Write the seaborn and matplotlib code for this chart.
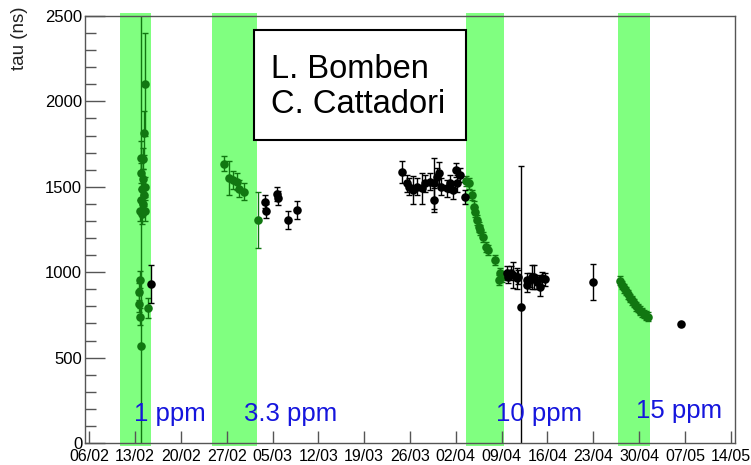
import matplotlib
matplotlib.use("Agg")
import matplotlib.pyplot as plt
import matplotlib.dates as mdates
import matplotlib.ticker as mticker
import seaborn as sns
import pandas as pd

# ------------------------------
# data (days counted from 06/02/2012)
# ------------------------------
t0 = pd.Timestamp("2012-02-06")

green_days = [8.51, 8.36, 7.85, 8.16, 7.85, 8.16, 8.51, 8.0, 8.36, 7.85, 8.16, 7.75, 8.51, 8.0,
              7.75, 7.64, 7.64, 9.01, 7.75, 7.85,
              20.6, 21.4, 22.0, 22.6, 22.9, 23.6, 25.7,
              57.55, 58.05, 58.4, 58.7, 58.9, 59.3, 59.5, 59.7, 60.1, 60.6, 60.96, 62.0, 62.75, 63.0, 62.65,
              81.08, 81.4, 81.7, 82.0, 82.3, 82.6, 82.9, 83.2, 83.5, 83.8, 84.1, 84.45, 84.75, 85.05, 85.36]
green_tau = [2100, 1815, 1670, 1665, 1580, 1545, 1500, 1490, 1450, 1420, 1400, 1360, 1360, 1340,
             955, 885, 815, 790, 740, 565,
             1635, 1550, 1540, 1530, 1490, 1470, 1305,
             1535, 1520, 1452, 1384, 1354, 1306, 1266, 1247, 1208, 1149, 1130, 1071, 994, 974, 954,
             950, 925, 905, 890, 870, 850, 835, 820, 800, 790, 775, 765, 755, 745, 740]
green_err = [300, 130, 100, 60, 60, 60, 60, 80, 60, 70, 50, 60, 60, 60,
             50, 50, 50, 60, 50, 2000,
             45, 100, 50, 50, 50, 50, 165,
             30, 30, 30, 30, 30, 30, 30, 30, 30, 30, 30, 30, 30, 30, 30,
             25, 25, 25, 25, 25, 25, 25, 25, 25, 25, 25, 25, 25, 25, 25]

black_days = [9.4, 26.85, 26.95, 28.6, 28.9, 30.4, 31.8,
              47.7, 48.5, 48.8, 49.5, 50.0, 50.8, 51.3, 52.05, 52.6, 52.7, 53.1, 53.5, 53.8,
              54.6, 55.1, 55.6, 56.0, 56.2, 56.6, 57.45,
              63.8, 64.0, 64.5, 64.8, 65.3, 65.5, 65.9, 66.8, 66.8, 67.3, 67.6, 67.9, 68.4,
              68.8, 69.1, 69.6, 77.0, 90.4]
black_tau = [930, 1413, 1358, 1458, 1433, 1306, 1364,
             1585, 1520, 1500, 1481, 1500, 1491, 1520, 1530, 1520, 1423, 1559, 1579, 1500,
             1491, 1520, 1481, 1598, 1520, 1569, 1442,
             994, 974, 994, 984, 964, 970, 798, 954, 925, 954, 974, 974, 944,
             915, 964, 958, 941, 695]
black_err = [110, 40, 40, 40, 40, 55, 50,
             65, 50, 50, 80, 50, 90, 50, 50, 150, 70, 50, 65, 50,
             50, 50, 50, 40, 50, 40, 40,
             40, 40, 40, 75, 60, 40, 824, 40, 40, 40, 70, 70, 40,
             55, 40, 40, 105, 10]

band_start = [4.69, 18.7, 57.6, 80.7]
band_end = [9.46, 25.6, 63.3, 85.6]

ppm_labels = ["1 ppm", "3.3 ppm", "10 ppm", "15 ppm"]
ppm_days = [6.8, 23.6, 62.1, 83.6]
ppm_tau = [130, 130, 130, 145]

authors = "L. Bomben\nC. Cattadori"


def to_dates(days):
    return t0 + pd.to_timedelta(days, unit="D")


green = pd.DataFrame({"date": to_dates(green_days), "tau": green_tau, "err": green_err})
black = pd.DataFrame({"date": to_dates(black_days), "tau": black_tau, "err": black_err})

# ------------------------------
# figure
# ------------------------------
sns.set_theme(style="white")
plt.rcParams["font.family"] = ["Liberation Sans", "DejaVu Sans"]

fig = plt.figure(figsize=(7.51, 4.65), dpi=100)
ax = fig.add_axes([85 / 751, 22 / 465, 650 / 751, 427 / 465])

# concentration bands
for s, e in zip(band_start, band_end):
    ax.axvspan(to_dates([s])[0], to_dates([e])[0], ymin=-0.008, ymax=1.008,
               color="#80ff80", lw=0, zorder=0, clip_on=False)

# error bars + points
ax.errorbar(green["date"], green["tau"], yerr=green["err"], fmt="none",
            ecolor="#117711", elinewidth=1, capsize=2.5, zorder=2)
ax.errorbar(black["date"], black["tau"], yerr=black["err"], fmt="none",
            ecolor="black", elinewidth=1, capsize=2.5, zorder=2)
sns.scatterplot(data=green, x="date", y="tau", color="#117711", s=38,
                linewidth=0, ax=ax, zorder=3)
sns.scatterplot(data=black, x="date", y="tau", color="black", s=38,
                linewidth=0, ax=ax, zorder=3)

# ppm labels
for lab, d, v in zip(ppm_labels, ppm_days, ppm_tau):
    ax.text(to_dates([d])[0], v, lab, color="#1515dd", fontsize=18.5,
            ha="left", va="baseline", zorder=4)

# author box
box = plt.Rectangle((0.26, 0.7096), 0.326, 0.2574, transform=ax.transAxes,
                    fc="white", ec="black", lw=1.5, zorder=4)
ax.add_patch(box)
ax.text(0.286, 0.834, authors, transform=ax.transAxes, fontsize=23.5,
        ha="left", va="center", linespacing=1.15, zorder=5, color="black")

# axes
ax.set_xlim(to_dates([-0.66])[0], to_dates([98.65])[0])
ax.set_ylim(0, 2500)
ax.set_xlabel("")
ax.set_ylabel("")

ticks = pd.date_range("2012-02-06", "2012-05-14", freq="7D")
ax.set_xticks(ticks)
ax.xaxis.set_major_formatter(mdates.DateFormatter("%d/%m"))
ax.yaxis.set_major_locator(mticker.MultipleLocator(500))
ax.yaxis.set_minor_locator(mticker.MultipleLocator(100))

for sp in ax.spines.values():
    sp.set_color("#555555")
    sp.set_linewidth(1)

ax.tick_params(axis="y", which="major", direction="in", length=14.4, width=1,
               color="#555555", pad=2, labelsize=12, labelcolor="black", left=True)
ax.tick_params(axis="y", which="minor", direction="in", length=8, width=1,
               color="#555555", left=True)
ax.tick_params(axis="x", which="major", direction="in", length=8.6, width=1,
               color="#555555", pad=4, labelsize=11.5, labelcolor="black", bottom=True)

fig.text(20 / 751, 1 - 6 / 465, "tau (ns)", rotation=90, ha="center", va="top",
         fontsize=13.5, color="#222222")

fig.savefig("out.png", dpi=100)
